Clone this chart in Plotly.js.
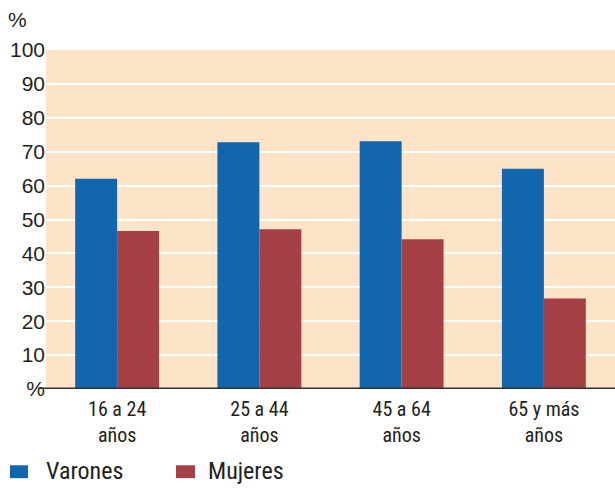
<!DOCTYPE html>
<html><head><meta charset="utf-8">
<script src="https://cdn.plot.ly/plotly-3.0.1.min.js"></script>
<style>body{margin:0;padding:0;background:#fff}#chart{width:615px;height:490px}</style>
</head><body><div id="chart"></div>
<script>
var categories = ["16 a 24<br>años", "25 a 44<br>años", "45 a 64<br>años", "65 y más<br>años"];
var varones = [62, 72.8, 73.1, 65];
var mujeres = [46.6, 47.1, 44.2, 26.7];
var yTickVals = [0, 10, 20, 30, 40, 50, 60, 70, 80, 90, 100];
var yTickText = ["%", "10", "20", "30", "40", "50", "60", "70", "80", "90", "100"];
var seriesNames = ["Varones", "Mujeres"];
var seriesColors = ["#1166AE", "#A44046"];

var cond = "'Roboto Condensed', 'Liberation Sans Narrow', 'DejaVu Sans Condensed', 'Liberation Sans', sans-serif";
var reg = "'Liberation Sans', Arial, sans-serif";

var traces = [
  {type: "bar", name: seriesNames[0], x: categories, y: varones, marker: {color: seriesColors[0]}},
  {type: "bar", name: seriesNames[1], x: categories, y: mujeres, marker: {color: seriesColors[1]}}
];

// manual legend (square + label) placed under the plot
var legendSquareX = [[-0.0633, -0.0316], [0.2285, 0.2619]];
var legendTextX = [-0.004, 0.282];
var legendShapes = [];
var legendAnns = [];
for (var i = 0; i < seriesNames.length; i++) {
  legendShapes.push({type: "rect", xref: "paper", yref: "paper",
    x0: legendSquareX[i][0], x1: legendSquareX[i][1], y0: -0.263, y1: -0.225,
    fillcolor: seriesColors[i], line: {width: 0}});
  legendAnns.push({text: seriesNames[i], xref: "paper", yref: "paper",
    x: legendTextX[i], y: -0.242, xanchor: "left", yanchor: "middle", showarrow: false,
    font: {family: cond, size: 24, color: "#231f20"}});
}

var layout = {
  width: 615, height: 490,
  margin: {l: 46, r: 0, t: 50, b: 101},
  paper_bgcolor: "#ffffff",
  plot_bgcolor: "#FDE4C9",
  barmode: "group",
  bargap: 0.41,
  bargroupgap: 0,
  showlegend: false,
  xaxis: {
    type: "category",
    range: [-0.5, 3.5],
    tickfont: {family: cond, size: 20, color: "#231f20"},
    ticks: "", showgrid: false, zeroline: false, showline: false,
    ticklabelstandoff: 6,
    fixedrange: true
  },
  yaxis: {
    range: [0, 100],
    tickvals: yTickVals, ticktext: yTickText,
    tickfont: {family: reg, size: 21, color: "#231f20"},
    ticks: "", showgrid: true, gridcolor: "#ffffff", gridwidth: 2,
    zeroline: false, showline: false,
    ticklabelstandoff: 0,
    fixedrange: true
  },
  shapes: [
    {type: "line", xref: "paper", yref: "y", x0: -0.014, x1: 1, y0: 0, y1: 0,
     line: {color: "#333333", width: 3}, layer: "above"}
  ].concat(legendShapes),
  annotations: [
    {text: "%", xref: "paper", yref: "paper", x: -0.05, y: 1.05, xanchor: "center", yanchor: "bottom",
     showarrow: false, font: {family: reg, size: 21, color: "#231f20"}}
  ].concat(legendAnns)
};

Plotly.newPlot("chart", traces, layout, {displayModeBar: false, staticPlot: true});
</script>
</body></html>
